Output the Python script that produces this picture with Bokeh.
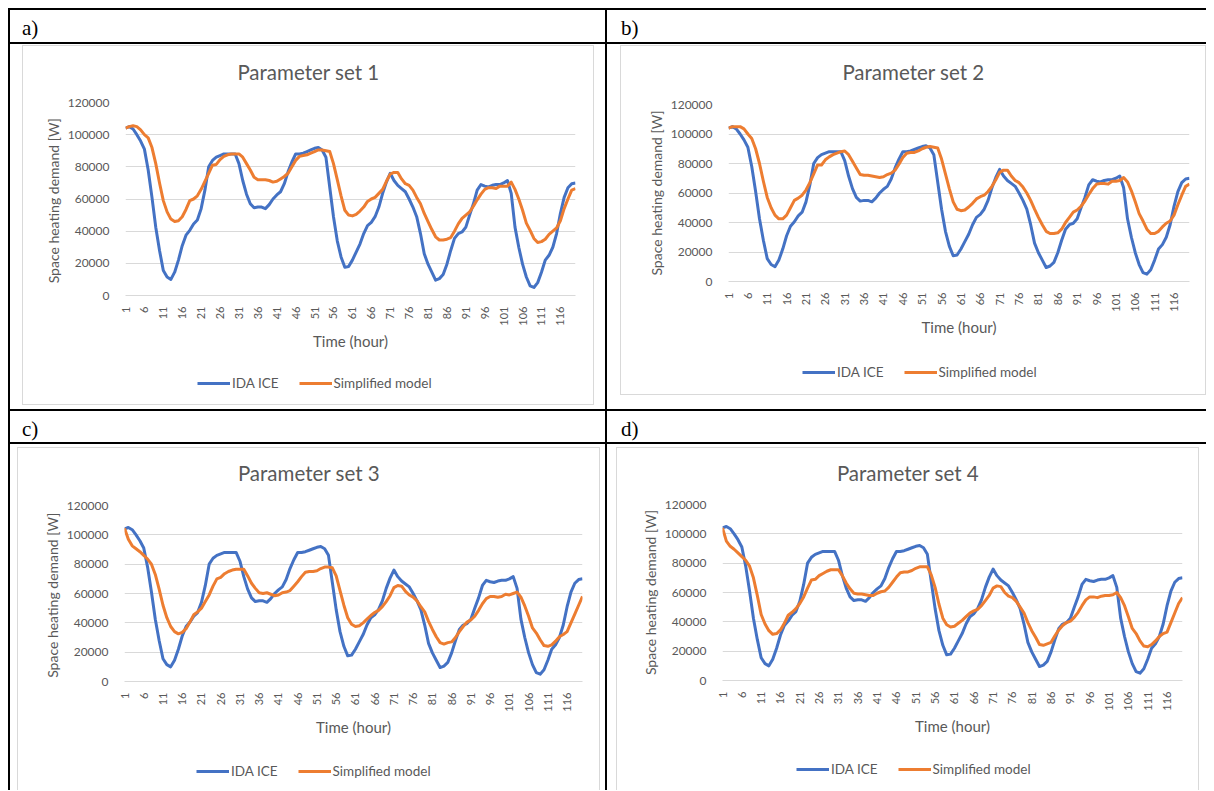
import math
from bokeh.plotting import figure
from bokeh.layouts import row, column
from bokeh.models import (Range1d, FixedTicker, NumeralTickFormatter, Legend,
                          LegendItem, Spacer, Div)
from bokeh.core.properties import value
from bokeh.embed import file_html
from bokeh.resources import INLINE

# ---------------- data ----------------
hours = list(range(1, 121))
x_ticks = list(range(1, 121, 5))
y_ticks = [0, 20000, 40000, 60000, 80000, 100000, 120000]

ida_ice = [
    104000, 105000, 103500, 100000, 96000, 91000, 78000, 61000, 42500, 28000,
    15500, 11500, 10000, 14500, 22000, 31000, 37500, 40500, 44500, 47000,
    54000, 65500, 80000, 84000, 86000, 87000, 88000, 88000, 88000, 88000,
    82000, 71500, 63000, 57000, 54500, 55000, 55000, 54000, 56500, 60000,
    62500, 64500, 69500, 77000, 83000, 88000, 88000, 88500, 89500, 90500,
    91500, 92000, 90500, 86000, 67500, 49000, 34000, 24000, 17500, 18000,
    22000, 27000, 32000, 38500, 43500, 45500, 49000, 55000, 63500, 70500,
    76000, 71500, 68500, 66500, 64500, 60000, 55000, 49000, 38500, 26000,
    19500, 14500, 9500, 10500, 13000, 19500, 28000, 35500, 38500, 39500,
    42500, 50000, 57000, 65500, 69000, 68000, 67500, 68500, 69000, 69000,
    70000, 71500, 63500, 42500, 30000, 19500, 11500, 6000, 5000, 8000,
    14500, 22000, 25000, 30000, 38500, 51000, 61000, 67000, 69500, 70000,
]

simplified_1 = [
    104000, 105000, 105500, 105000, 103000, 100000, 98000, 92000, 82000, 70000,
    59000, 52000, 47500, 46000, 46500, 49000, 53500, 59000, 60000, 62000,
    66000, 71000, 76000, 81000, 81500, 84500, 86500, 87500, 88000, 88000,
    88000, 86000, 82000, 78000, 73500, 72000, 72000, 72000, 71500, 70500,
    71000, 72500, 74000, 76000, 80000, 84000, 86500, 87000, 87500, 88500,
    89500, 90500, 90500, 90000, 89500, 82000, 72000, 62000, 53000, 50000,
    49500, 50500, 52500, 55000, 58500, 60000, 61000, 63500, 66000, 71000,
    75500, 76500, 76500, 72500, 69500, 68500, 65500, 61000, 57000, 51000,
    46000, 41000, 36500, 34500, 34500, 35000, 36000, 40000, 44500, 48000,
    50000, 52000, 55500, 59500, 63000, 66000, 67000, 67000, 66500, 68000,
    68000, 68000, 70500, 66000, 60000, 53000, 45000, 40500, 35500, 33000,
    33500, 35000, 38000, 40000, 42000, 46500, 54000, 60000, 65500, 66500,
]

simplified_2 = [
    104000, 105000, 105000, 105000, 103500, 100000, 97000, 90000, 80000, 68000,
    57000, 50000, 45000, 42500, 42500, 45000, 50000, 55000, 56500, 58500,
    62000, 67000, 73000, 79000, 79000, 82500, 84500, 86000, 87000, 88000,
    88500, 86000, 81500, 77000, 72500, 72000, 72000, 71500, 71000, 70500,
    71000, 72500, 73500, 75500, 79500, 84000, 87000, 87500, 87500, 88500,
    90000, 91000, 91500, 91000, 90500, 83000, 73000, 63000, 54000, 49000,
    48000, 48500, 50500, 53000, 56000, 57500, 58500, 61000, 64500, 69000,
    74000, 75500, 75500, 71500, 68500, 67000, 64000, 60000, 55000, 49000,
    43500, 38500, 34000, 32500, 32500, 33000, 35500, 40000, 43500, 47000,
    48500, 51000, 54500, 59000, 63000, 66000, 66500, 66500, 66000, 68000,
    68000, 68500, 70500, 67500, 61500, 54000, 46000, 41000, 35500, 32500,
    32500, 34000, 37000, 39500, 41000, 45000, 52000, 58500, 64500, 66000,
]

simplified_3 = [
    104500, 97000, 92500, 90500, 88500, 86000, 83500, 80000, 73000, 63000,
    52000, 43500, 37500, 34000, 32500, 33500, 36000, 40500, 45500, 47500,
    50000, 54500, 59000, 65000, 70000, 71000, 73500, 75000, 76000, 76500,
    76500, 76500, 72000, 67000, 63500, 60500, 60000, 60500, 59500, 58500,
    59000, 60500, 61000, 62000, 65000, 68000, 71500, 74500, 75000, 75000,
    75500, 77000, 78000, 78000, 77500, 72000, 62000, 52000, 43500, 39000,
    37500, 38000, 40000, 42500, 45000, 47000, 48500, 51000, 54500, 58500,
    64000, 65500, 65000, 61500, 59000, 57500, 55000, 51000, 47500, 41000,
    35500, 30500, 26500, 25500, 26500, 27000, 30000, 34000, 37500, 40500,
    42000, 44500, 48500, 53000, 56500, 58000, 58000, 57500, 58000, 59500,
    59000, 60000, 61000, 57500, 51500, 44500, 36500, 33000, 28500, 24500,
    24000, 25000, 27500, 30500, 32000, 34000, 40000, 46000, 52000, 58000,
]

simplified_4 = [
    104000, 95000, 91500, 89500, 87000, 84500, 82000, 78000, 70000, 58000,
    45000, 38500, 34000, 31500, 32000, 34500, 39000, 44500, 46500, 49000,
    52500, 57000, 63000, 68500, 69000, 71500, 73000, 74500, 75500, 75500,
    75500, 71500, 66500, 62500, 59500, 59000, 59000, 58500, 58000, 58000,
    59500, 60500, 61000, 63500, 67000, 70500, 73500, 74000, 74000, 75000,
    76500, 77500, 77500, 77500, 72000, 63500, 52000, 42500, 38000, 36500,
    37000, 39000, 41000, 43500, 46000, 47500, 48500, 51000, 54500, 58000,
    63000, 64500, 64000, 60000, 57500, 56500, 54000, 50000, 46000, 39500,
    34000, 29500, 24500, 24000, 25000, 26000, 30500, 34500, 37500, 39500,
    40500, 43000, 46500, 51000, 55000, 57000, 57000, 56500, 57500, 58000,
    58000, 58500, 60000, 56500, 51000, 43500, 35500, 32000, 27000, 23500,
    23000, 24500, 27000, 30000, 32000, 33000, 39500, 46000, 52500, 56500,
]

titles = ["Parameter set 1", "Parameter set 2", "Parameter set 3", "Parameter set 4"]
y_labels = ["Space heating demand  [W]", "Space heating demand [W]",
            "Space heating demand  [W]", "Space heating demand [W]"]
panel_labels = ["a)", "b)", "c)", "d)"]
series_names = ["IDA ICE", "Simplified model"]
x_label = "Time (hour)"

# ---------------- style ----------------
BLUE = "#4472C4"
ORANGE = "#ED7D31"
TEXT = "#595959"
GRID = "#D9D9D9"
BOX = "#D9D9D9"
FONT = "Lato"


def bar(w, h, color):
    return Spacer(width=w, height=h, margin=0,
                  styles={"background-color": color})


def gap(w, h):
    return Spacer(width=w, height=h, margin=0)


def label_cell(text, w, h, x):
    d = Div(text=text, width=w - x, height=h, margin=0,
            styles={"font-family": "'Liberation Serif', serif",
                    "font-size": "21px", "line-height": "36px",
                    "color": "black", "white-space": "nowrap"})
    return row(gap(x, h), d)


def strip(W, h, left, right):
    fw = W - left - right
    return figure(width=W, height=h, x_range=Range1d(0, fw),
                  y_range=Range1d(0, h), toolbar_location=None,
                  output_backend="svg", title=None, x_axis_type=None,
                  y_axis_type=None, min_border=0, min_border_left=left,
                  min_border_right=right, outline_line_color=None)


def title_cell(text, W, h, cy, left, right):
    p = strip(W, h, left, right)
    p.text(x=[W / 2 - left], y=[cy], text=[text], text_font=value(FONT),
           text_font_size="20.5px", text_color=TEXT,
           text_baseline="middle", text_align="center")
    return p


def legend_cell(W, h, left, right, simplified, lx, ly):
    p = strip(W, h, left, right)
    # the series lie far above this strip's range: only the legend keys show
    r1 = p.line(hours, ida_ice, line_color=BLUE, line_width=3)
    r2 = p.line(hours, simplified, line_color=ORANGE, line_width=3)
    legend = Legend(items=[LegendItem(label=series_names[0], renderers=[r1]),
                           LegendItem(label=series_names[1], renderers=[r2])],
                    location=(lx, ly), orientation="horizontal",
                    border_line_color=None, background_fill_alpha=0,
                    padding=0, margin=0, spacing=20, glyph_width=33,
                    glyph_height=16, label_height=16, label_standoff=2,
                    label_text_font=FONT, label_text_font_size="13.5px",
                    label_text_color=TEXT)
    p.add_layout(legend)
    return p


def chart(w, h, left, right, ylabel, simplified):
    p = figure(width=w, height=h, x_range=Range1d(1, 120),
               y_range=Range1d(0, 120000), toolbar_location=None,
               output_backend="svg", title=None, min_border_left=left,
               min_border_right=right, min_border_top=12,
               min_border_bottom=58, outline_line_color=None)
    p.xgrid.visible = False
    p.ygrid.grid_line_color = GRID
    p.ygrid.grid_line_width = 1
    p.xaxis.ticker = FixedTicker(ticks=x_ticks)
    p.yaxis.ticker = FixedTicker(ticks=y_ticks)
    p.yaxis.formatter = NumeralTickFormatter(format="0")
    p.xaxis.major_label_orientation = math.pi / 2
    for ax in (p.xaxis[0], p.yaxis[0]):
        ax.major_tick_line_color = None
        ax.minor_tick_line_color = None
        ax.major_label_text_font = FONT
        ax.major_label_text_color = TEXT
        ax.axis_label_text_font = FONT
        ax.axis_label_text_color = TEXT
        ax.axis_label_text_font_style = "normal"
    p.yaxis.axis_line_color = None
    p.xaxis.axis_line_color = GRID
    p.xaxis.major_label_text_font_size = "11px"
    p.yaxis.major_label_text_font_size = "12px"
    p.xaxis.major_label_standoff = 5
    p.yaxis.major_label_standoff = 10
    p.xaxis.axis_label = x_label
    p.xaxis.axis_label_text_font_size = "15px"
    p.xaxis.axis_label_standoff = 3
    p.yaxis.axis_label = ylabel
    p.yaxis.axis_label_text_font_size = "14px"
    p.yaxis.axis_label_standoff = 3

    p.line(hours, ida_ice, line_color=BLUE, line_width=3, line_join="round")
    p.line(hours, simplified, line_color=ORANGE, line_width=3, line_join="round")
    return p


def boxed(W, title, title_h, title_cy, chart_h, leg_h, left, right, ylabel,
          simplified, lx, ly, bottom_line=True):
    H = title_h + chart_h + leg_h
    inner = column(title_cell(title, W, title_h, title_cy, left, right),
                   chart(W, chart_h, left, right, ylabel, simplified),
                   legend_cell(W, leg_h, left, right, simplified, lx, ly))
    mid = row(bar(1, H, BOX), inner, bar(1, H, BOX))
    parts = [bar(W + 2, 1, BOX), mid]
    if bottom_line:
        parts.append(bar(W + 2, 1, BOX))
    return column(*parts)


# panel a (cell 595 x 365): box 572 x 360
box_a = boxed(570, titles[0], 44, 19, 263, 51, 102, 18, y_labels[0],
              simplified_1, 72, 13)
cell_a = column(gap(595, 1),
                row(gap(12, 360), box_a, gap(11, 360)),
                gap(595, 4))

# panel b (cell 599 x 365): box 586 x 350
box_b = boxed(584, titles[1], 46, 21, 247, 55, 107, 16, y_labels[1],
              simplified_2, 74, 14)
cell_b = column(gap(599, 1),
                row(gap(13, 350), box_b),
                gap(599, 14))

# panel c (cell 595 x 346): box 583 x 343 (bottom edge outside view)
box_c = boxed(581, titles[2], 45, 21, 246, 51, 106, 17, y_labels[2],
              simplified_3, 72, 11, bottom_line=False)
cell_c = column(gap(595, 3),
                row(gap(7, 343), box_c, gap(5, 343)))

# panel d (cell 599 x 346)
box_d = boxed(581, titles[3], 44, 20, 246, 52, 105, 16, y_labels[3],
              simplified_4, 74, 13, bottom_line=False)
cell_d = column(gap(599, 3),
                row(gap(9, 343), box_d, gap(9, 343)))

K = "black"
table = column(
    bar(1198, 2, K),
    row(bar(2, 32, K), label_cell(panel_labels[0], 595, 32, 12),
        bar(2, 32, K), label_cell(panel_labels[1], 599, 32, 14)),
    bar(1198, 2, K),
    row(bar(2, 365, K), cell_a, bar(2, 365, K), cell_b),
    bar(1198, 2, K),
    row(bar(2, 31, K), label_cell(panel_labels[2], 595, 31, 12),
        bar(2, 31, K), label_cell(panel_labels[3], 599, 31, 14)),
    bar(1198, 2, K),
    row(bar(2, 346, K), cell_c, bar(2, 346, K), cell_d),
)

page = column(gap(1206, 8),
              row(gap(8, 782), table))

open("out.html", "w").write(file_html(page, INLINE))
